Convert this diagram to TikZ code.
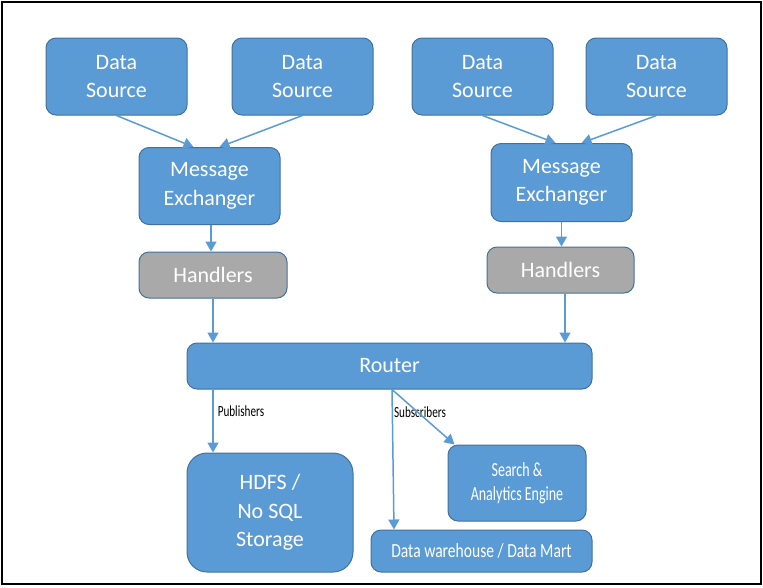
\documentclass[tikz,border=0pt]{standalone}
\usepackage{fontspec}
\setmainfont{Carlito}
\usepackage{graphicx}
\usetikzlibrary{arrows.meta}

\definecolor{boxblue}{HTML}{5B9BD5}
\definecolor{boxedge}{HTML}{41719C}
\definecolor{boxgray}{HTML}{A9A9A9}

% narrow lettering for the small labels
\newcommand{\cond}[2][0.72]{\scalebox{#1}[1]{#2}}

\begin{document}
\begin{tikzpicture}[
    x=1pt, y=-1pt,
    bluebox/.style={
        rectangle,
        rounded corners=10pt,
        draw=boxedge,
        line width=1pt,
        fill=boxblue,
        text=white,
        align=center,
        inner sep=2pt,
        font=\fontsize{22}{28.5}\selectfont
    },
    graybox/.style={
        bluebox,
        fill=boxgray
    },
    smallbox/.style={
        bluebox,
        font=\fontsize{20}{24}\selectfont
    },
    flow/.style={
        draw=boxblue,
        line width=1.5pt,
        -{Triangle[length=10pt,width=11pt]}
    },
    tag/.style={
        anchor=west,
        inner sep=0pt,
        font=\fontsize{15.5}{17}\selectfont
    }
]

\useasboundingbox (0,0) rectangle (763,587);

% Frame
\draw[line width=2.5pt] (2,2) rectangle (761,584);

% ========== DATA SOURCES ==========

\node[bluebox, minimum width=141pt, minimum height=77pt] (src1) at (116.5, 76.5) {Data\\Source};
\node[bluebox, minimum width=141pt, minimum height=77pt] (src2) at (302.5, 76.5) {Data\\Source};
\node[bluebox, minimum width=141pt, minimum height=77pt] (src3) at (482.5, 76.5) {Data\\Source};
\node[bluebox, minimum width=141pt, minimum height=77pt] (src4) at (656.5, 76.5) {Data\\Source};

% ========== MESSAGE EXCHANGERS ==========

\node[bluebox, minimum width=141pt, minimum height=77pt] (exch1) at (209.5, 186) {Message\\Exchanger};
\node[bluebox, minimum width=141pt, minimum height=78pt] (exch2) at (561.5, 182.5) {Message\\Exchanger};

% ========== HANDLERS ==========

\node[graybox, minimum width=148pt, minimum height=46pt] (hand1) at (213, 275) {Handlers};
\node[graybox, minimum width=147pt, minimum height=46pt] (hand2) at (560.5, 270) {Handlers};

% ========== ROUTER ==========

\node[bluebox, minimum width=405pt, minimum height=46pt] (router) at (389.5, 366) {Router};

% ========== TARGETS ==========

\node[bluebox, rounded corners=20pt, minimum width=166pt, minimum height=119pt] (hdfs) at (270, 512.5) {HDFS /\\No SQL\\Storage};
\node[smallbox, minimum width=138pt, minimum height=76pt] (search) at (517, 483) {\cond[0.7]{Search \&}\\\cond[0.7]{Analytics Engine}};
\node[smallbox, minimum width=221pt, minimum height=42pt] (dwh) at (481.5, 551) {\cond[0.78]{Data warehouse / Data Mart}};

% ========== CONNECTIONS - SOURCES ==========

\draw[flow] (src1.south) -- ([xshift=-16pt]exch1.north);
\draw[flow] (src2.south) -- ([xshift=10pt]exch1.north);
\draw[flow] (src3.south) -- ([xshift=-6pt]exch2.north);
\draw[flow] (src4.south) -- ([xshift=20pt]exch2.north);

% ========== CONNECTIONS - HANDLERS ==========

\draw[flow] ([xshift=1.5pt]exch1.south) -- ([xshift=1.5pt]exch1.south |- hand1.north);
\draw[flow] (exch2.south) -- (exch2.south |- hand2.north);
\draw[flow] (hand1.south) -- (hand1.south |- router.north);
\draw[flow] ([xshift=4.5pt]hand2.south) -- ([xshift=4.5pt]hand2.south |- router.north);

% ========== CONNECTIONS - ROUTER ==========

\draw[flow] (router.south -| hand1.south) -- (hdfs.north -| hand1.south)
    node[tag, pos=0.35, xshift=4pt] {\cond{Publishers}};
\draw[flow] ([xshift=2.5pt]router.south) -- ([xshift=4.5pt]router.south |- dwh.north)
    node[tag, pos=0.165, xshift=1pt] {\cond{Subscribers}};
\draw[flow] ([xshift=2.5pt]router.south) -- ([xshift=7pt]search.north west);

\end{tikzpicture}
\end{document}
